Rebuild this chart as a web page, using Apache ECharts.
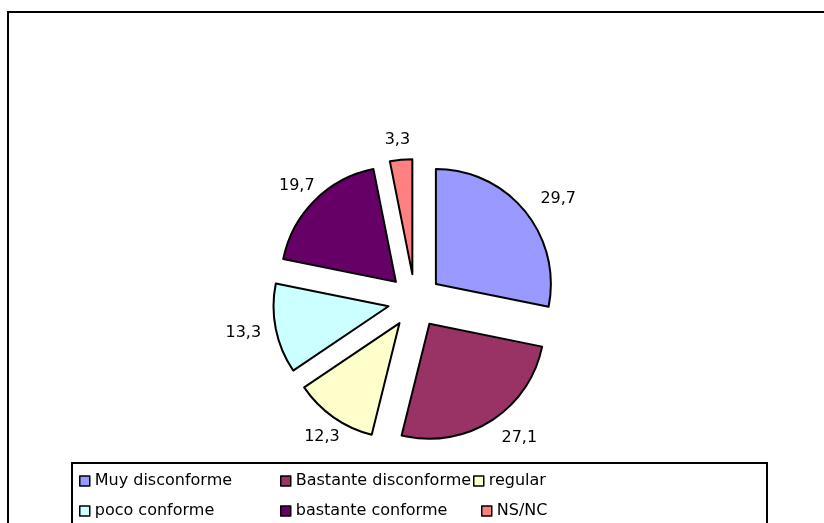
<!DOCTYPE html>
<html>
<head>
<meta charset="utf-8">
<script src="https://cdn.jsdelivr.net/npm/echarts@6/dist/echarts.min.js"></script>
<style>
  html, body { margin: 0; padding: 0; background: #fff; }
  #chart { width: 824px; height: 523px; }
</style>
</head>
<body>
<div id="chart"></div>
<script>
// categories and values
const categories = ['Muy disconforme', 'Bastante disconforme', 'regular', 'poco conforme', 'bastante conforme', 'NS/NC']
const values = [29.7, 27.1, 12.3, 13.3, 19.7, 3.3]
const colors = ['#9999FF', '#993366', '#FFFFCC', '#CCFFFF', '#660066', '#FF8080']
// excel pulls the left hand labels in towards the slice
const labelPull = { 'regular': -20, 'poco conforme': -5, 'bastante conforme': -14, 'NS/NC': -11 }

const font = 'DejaVu Sans'

const chart = echarts.init(document.getElementById('chart'))

const pieData = categories.map((name, i) => {
  const item = {
    name: name,
    value: values[i],
    selected: true,
    itemStyle: { color: colors[i] }
  }
  if (labelPull[name] !== undefined) {
    item.labelLine = { show: false, length: name === 'regular' ? 24 : 20, length2: labelPull[name] }
  }
  return item
})

// legend columns laid out like the excel legend box
function legendCol(names, left, top) {
  return {
    orient: 'vertical',
    left: left,
    top: top,
    padding: 0,
    itemGap: 14,
    itemWidth: 10,
    itemHeight: 10,
    icon: 'rect',
    selectedMode: false,
    data: names,
    itemStyle: { borderColor: '#000', borderWidth: 1.5 },
    textStyle: { fontFamily: font, fontSize: 16, color: '#000', lineHeight: 16, padding: [0, 0, 0, 0] }
  }
}

chart.setOption({
  animation: false,
  graphic: [
    {
      type: 'rect',
      shape: { x: 8, y: 12, width: 830, height: 530 },
      style: { fill: 'none', stroke: '#000', lineWidth: 2 },
      silent: true
    },
    {
      type: 'rect',
      shape: { x: 72, y: 463, width: 695, height: 80 },
      style: { fill: 'none', stroke: '#000', lineWidth: 2 },
      silent: true
    }
  ],
  legend: [
    legendCol([categories[0], categories[3]], 79, 473),
    legendCol([categories[1], categories[4]], 280, 473),
    legendCol([categories[2]], 473, 473),
    legendCol([categories[5]], 481, 503)
  ],
  series: [{
    type: 'pie',
    center: [415, 301],
    radius: 115,
    startAngle: 90,
    clockwise: true,
    selectedMode: 'multiple',
    selectedOffset: 27,
    avoidLabelOverlap: false,
    itemStyle: { borderColor: '#000', borderWidth: 2 },
    emphasis: { disabled: true, scale: false },
    label: {
      show: true,
      position: 'outside',
      fontFamily: font,
      fontSize: 16,
      color: '#000',
      distanceToLabelLine: 0,
      formatter: p => String(p.value).replace('.', ',')
    },
    labelLine: { show: false, length: 20, length2: 0 },
    data: pieData
  }]
})
</script>
</body>
</html>
